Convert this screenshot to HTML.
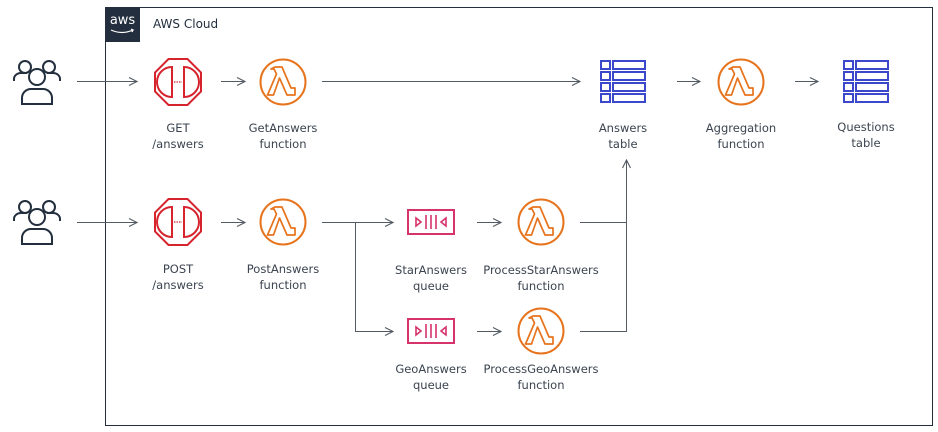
<!DOCTYPE html>
<html><head><meta charset="utf-8"><style>
html,body{margin:0;padding:0;background:#fff;width:938px;height:432px;overflow:hidden}
text{font-family:"DejaVu Sans","Liberation Sans",sans-serif;font-size:11.5px;fill:#3b4450;text-anchor:middle}
</style></head><body>
<svg width="938" height="432" viewBox="0 0 938 432" xmlns="http://www.w3.org/2000/svg">
<defs>
<marker id="ah" markerWidth="10" markerHeight="10" refX="9" refY="5" orient="auto" markerUnits="userSpaceOnUse">
<path d="M1,1 L9,5 L1,9" fill="none" stroke="#545b64" stroke-width="1.1"/>
</marker>
<g id="users" fill="none" stroke="#232f3e" stroke-width="2">
<circle cx="-12" cy="-15" r="6"/><circle cx="12" cy="-15" r="6"/>
<path d="M-23,-1 v-2 a7,6 0 0 1 7,-6 h6"/><path d="M23,-1 v-2 a7,6 0 0 0 -7,-6 h-6"/>
<circle cx="0" cy="-5" r="8" fill="#fff"/>
<path d="M-15,22 v-6 a9,9 0 0 1 9,-9 h12 a9,9 0 0 1 9,9 v6 z" fill="#fff"/>
</g>
<g id="apigw" fill="none" stroke="#d6242d" stroke-width="2">
<polygon points="-9.5,-23 9.5,-23 23,-9.5 23,9.5 9.5,23 -9.5,23 -23,9.5 -23,-9.5"/>
<path d="M-6,-15 a15,15 0 0 0 0,30 z"/><path d="M6,-15 a15,15 0 0 1 0,30 z"/>
<path d="M-4,0 h8" stroke-dasharray="1.5,1" stroke-width="1.2"/>
</g>
<g id="lambda" fill="none" stroke="#e7731c" stroke-width="2">
<circle r="22.5"/>
<path d="M-8,-15 h7 l9,21 h4 v7 h-8 l-7.5,-17 l-6,17 h-6 l9,-21 l-2.5,-5 h-3 z" stroke-width="1.7" stroke-linejoin="round"/>
</g>
<g id="table" fill="none" stroke="#3b48cc" stroke-width="2">
<rect x="-22" y="-21" width="9" height="8"/><rect x="-10" y="-21" width="32" height="8"/>
<rect x="-22" y="-10" width="9" height="8"/><rect x="-10" y="-10" width="32" height="8"/>
<rect x="-22" y="1" width="9" height="8"/><rect x="-10" y="1" width="32" height="8"/>
<rect x="-22" y="12" width="9" height="8"/><rect x="-10" y="12" width="32" height="8"/>
</g>
<g id="queue" fill="none" stroke="#d6336c" stroke-width="2">
<rect x="-23" y="-12" width="46" height="24"/>
<path d="M-15,-4 l5,4 l-5,4 z" stroke-width="1.6"/><path d="M15,-4 l-5,4 l5,4 z" stroke-width="1.6"/>
<path d="M-5,-7 v14 M0,-7 v14 M5,-7 v14" stroke-width="1.6"/>
</g>
</defs>
<rect x="105.5" y="7.5" width="827" height="418" fill="none" stroke="#232f3e" stroke-width="1"/>
<rect x="105" y="7" width="35" height="35" fill="#232f3e"/>
<text x="122.5" y="24" style="fill:#fff;font-size:13px">aws</text>
<path d="M111,30 q11,5 22,0 l-2,-1 m2,1 l-1,2" stroke="#fff" stroke-width="1.2" fill="none"/>
<text x="153" y="28" style="text-anchor:start;font-size:12px;fill:#232f3e">AWS Cloud</text>

<g stroke="#545b64" stroke-width="1" fill="none">
<path d="M77,81.5 H137" marker-end="url(#ah)"/>
<path d="M221,81.5 H245" marker-end="url(#ah)"/>
<path d="M322,81.5 H580" marker-end="url(#ah)"/>
<path d="M677,81.5 H700" marker-end="url(#ah)"/>
<path d="M795,81.5 H818" marker-end="url(#ah)"/>
<path d="M77,222.5 H137" marker-end="url(#ah)"/>
<path d="M221,222.5 H245" marker-end="url(#ah)"/>
<path d="M322,222.5 H355.5 V331.5"/>
<path d="M355,222.5 H393" marker-end="url(#ah)"/>
<path d="M355,331.5 H393" marker-end="url(#ah)"/>
<path d="M477,222.5 H501" marker-end="url(#ah)"/>
<path d="M477,331.5 H501" marker-end="url(#ah)"/>
<path d="M580,222.5 H626.5"/>
<path d="M580,331.5 H626.5 V160" marker-end="url(#ah)"/>
</g>

<use href="#users" x="37" y="82"/>
<use href="#users" x="37" y="222"/>
<use href="#apigw" x="178" y="82"/>
<use href="#apigw" x="178" y="222"/>
<use href="#lambda" x="283" y="82"/>
<use href="#lambda" x="283" y="222"/>
<use href="#lambda" x="741" y="82"/>
<use href="#lambda" x="541" y="222"/>
<use href="#lambda" x="541" y="331"/>
<use href="#table" x="623" y="82"/>
<use href="#table" x="866" y="82"/>
<use href="#queue" x="431" y="222"/>
<use href="#queue" x="431" y="331"/>

<text x="178" y="132">GET</text><text x="178" y="148">/answers</text>
<text x="283" y="132">GetAnswers</text><text x="283" y="148">function</text>
<text x="623" y="132">Answers</text><text x="623" y="148">table</text>
<text x="741" y="132">Aggregation</text><text x="741" y="148">function</text>
<text x="866" y="131">Questions</text><text x="866" y="147">table</text>
<text x="178" y="273">POST</text><text x="178" y="289">/answers</text>
<text x="283" y="273">PostAnswers</text><text x="283" y="289">function</text>
<text x="431" y="274">StarAnswers</text><text x="431" y="290">queue</text>
<text x="541" y="274">ProcessStarAnswers</text><text x="541" y="290">function</text>
<text x="431" y="373">GeoAnswers</text><text x="431" y="389">queue</text>
<text x="541" y="373">ProcessGeoAnswers</text><text x="541" y="389">function</text>
</svg>
</body></html>
